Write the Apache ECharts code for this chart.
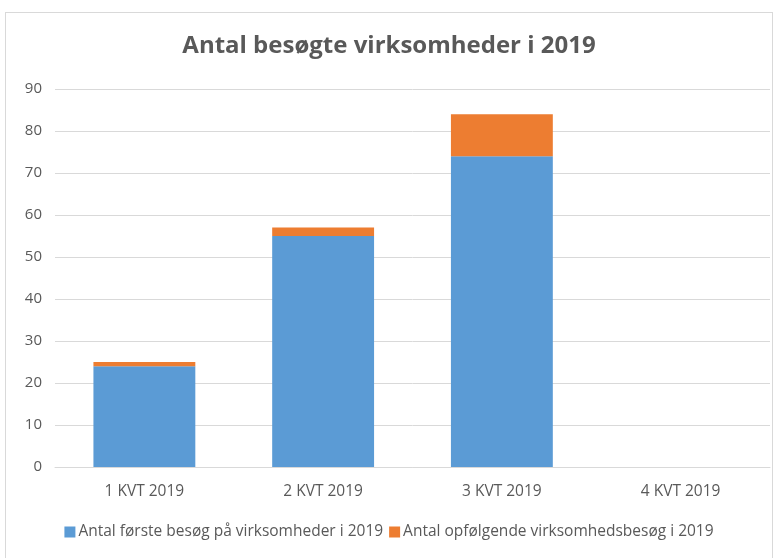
<!DOCTYPE html>
<html>
<head>
<meta charset="utf-8">
<script src="https://cdn.jsdelivr.net/npm/echarts@6/dist/echarts.min.js"></script>
<style>
  html, body { margin: 0; padding: 0; background: #fff; }
  #frame { position: absolute; left: 5px; top: 12px; width: 768px; height: 560px; border: 1px solid #d9d9d9; box-sizing: border-box; }
  #chart { position: absolute; left: 0; top: 0; width: 778px; height: 558px; }
</style>
</head>
<body>
<div id="frame"></div>
<div id="chart"></div>
<script>
var categories = ['1 KVT 2019', '2 KVT 2019', '3 KVT 2019', '4 KVT 2019'];
var firstVisits = [24, 55, 74, 0];
var followUps = [1, 2, 10, 0];
var seriesNames = ['Antal første besøg på virksomheder i 2019', 'Antal opfølgende virksomhedsbesøg i 2019'];

var chart = echarts.init(document.getElementById('chart'));
var font = '"Open Sans", "Noto Sans", sans-serif';
var option = {
    animation: false,
    title: {
        text: 'Antal besøgte virksomheder i 2019',
        left: 'center',
        top: 29,
        textStyle: { fontFamily: font, fontSize: 24, fontWeight: 'bold', color: '#595959' }
    },
    legend: {
        data: seriesNames,
        bottom: 13,
        left: 'center',
        itemWidth: 11,
        itemHeight: 11,
        itemGap: 6,
        icon: 'rect',
        textStyle: { fontFamily: font, fontSize: 15.5, color: '#595959', padding: [0, 0, 0, -2] }
    },
    grid: { left: 55, right: 8, top: 89, bottom: 91 },
    xAxis: {
        type: 'category',
        data: categories,
        axisTick: { show: false },
        axisLine: { lineStyle: { color: '#d9d9d9' } },
        axisLabel: { fontFamily: font, fontSize: 15.5, color: '#595959', margin: 17 }
    },
    yAxis: {
        type: 'value',
        min: 0,
        max: 90,
        interval: 10,
        axisLine: { show: false },
        axisTick: { show: false },
        splitLine: { lineStyle: { color: '#d9d9d9' } },
        axisLabel: { fontFamily: font, fontSize: 15, color: '#595959', margin: 13 }
    },
    series: [
        {
            name: seriesNames[0],
            type: 'bar',
            stack: 'total',
            barWidth: '57%',
            itemStyle: { color: '#5b9bd5' },
            data: firstVisits
        },
        {
            name: seriesNames[1],
            type: 'bar',
            stack: 'total',
            itemStyle: { color: '#ed7d31' },
            data: followUps
        }
    ]
};
chart.setOption(option);
</script>
</body>
</html>
